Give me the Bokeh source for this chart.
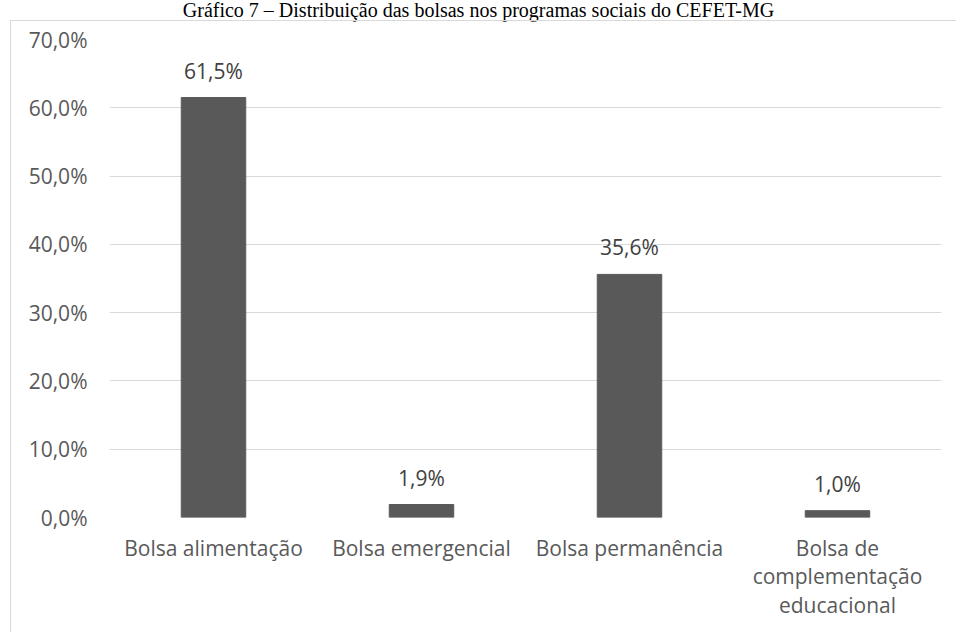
from bokeh.plotting import figure
from bokeh.models import ColumnDataSource, FactorRange, Range1d, FixedTicker, Div
from bokeh.layouts import column
from bokeh.core.properties import value
from bokeh.embed import file_html
from bokeh.resources import INLINE

title_text = "Gráfico 7 – Distribuição das bolsas nos programas sociais do CEFET-MG"
categories = ["Bolsa alimentação", "Bolsa emergencial", "Bolsa permanência",
              "Bolsa de\ncomplementação\neducacional"]
values = [61.5, 1.9, 35.6, 1.0]
value_labels = ["61,5%", "1,9%", "35,6%", "1,0%"]
y_ticks = [0, 10, 20, 30, 40, 50, 60, 70]
y_tick_labels = ["0,0%", "10,0%", "20,0%", "30,0%", "40,0%", "50,0%", "60,0%", "70,0%"]

FONT = "Open Sans"
src = ColumnDataSource(dict(cat=categories, val=values, lab=value_labels))

title_div = Div(text=title_text, width=957, height=20, margin=(0, 0, 0, 0),
                styles={"font-family": "'Liberation Serif', serif", "font-size": "20px",
                        "text-align": "center", "color": "black", "line-height": "20px",
                        "padding": "0px"})

p = figure(width=946, height=612, x_range=FactorRange(*categories),
           y_range=Range1d(0, 70), output_backend="svg", toolbar_location=None,
           min_border_left=98, min_border_right=16, min_border_top=18,
           min_border_bottom=116)
p.margin = (0, 0, 0, 10)
p.styles = {"border-left": "1px solid #d9d9d9", "border-top": "1px solid #d9d9d9"}
p.outline_line_color = None
p.background_fill_color = "white"
p.border_fill_color = "white"

p.vbar(x="cat", top="val", width=0.31, source=src, color="#595959")
p.text(x="cat", y="val", text="lab", source=src, text_align="center",
       text_baseline="alphabetic", y_offset=-27, text_font=value(FONT),
       text_font_size="21px", text_color="#404040")

p.xgrid.grid_line_color = None
p.ygrid.grid_line_color = "#d9d9d9"
p.ygrid.grid_line_width = 1.2
p.yaxis.ticker = FixedTicker(ticks=y_ticks)
p.yaxis.major_label_overrides = {t: l for t, l in zip(y_ticks, y_tick_labels)}

for ax in (p.xaxis[0], p.yaxis[0]):
    ax.axis_line_color = None
    ax.major_tick_line_color = None
    ax.minor_tick_line_color = None
    ax.major_tick_out = 0
    ax.major_tick_in = 0
    ax.major_label_text_font = FONT
    ax.major_label_text_font_size = "21px"
    ax.major_label_text_color = "#595959"
p.yaxis.major_label_standoff = 22
p.xaxis.major_label_standoff = 16
p.xaxis.major_label_text_line_height = 1.03

layout = column(title_div, p, spacing=0)
open("out.html", "w").write(file_html(layout, INLINE))
